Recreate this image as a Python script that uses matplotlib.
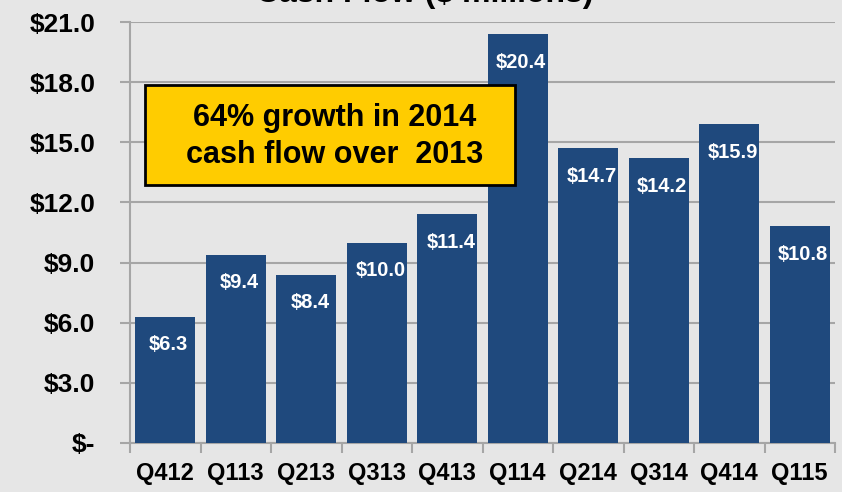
import matplotlib.pyplot as plt
from matplotlib.patches import Rectangle
import numpy as np

quarters = ['Q412', 'Q113', 'Q213', 'Q313', 'Q413', 'Q114', 'Q214', 'Q314', 'Q414', 'Q115']
cash_flow = [6.3, 9.4, 8.4, 10.0, 11.4, 20.4, 14.7, 14.2, 15.9, 10.8]
y_ticks = [0, 3, 6, 9, 12, 15, 18, 21]
y_labels = ['$-', '$3.0', '$6.0', '$9.0', '$12.0', '$15.0', '$18.0', '$21.0']

bg = '#E6E6E6'
bar_col = '#1F497D'
grid_col = '#A6A6A6'
font = 'Liberation Sans'

fig = plt.figure(figsize=(8.42, 4.92), dpi=100, facecolor=bg)
ax = fig.add_axes([130 / 842, 1 - 443 / 492, 705 / 842, 421 / 492], facecolor=bg)

x = np.arange(len(quarters))
ax.bar(x, cash_flow, width=0.85, color=bar_col, zorder=3)

# value labels inside the bars
for xi, v in zip(x, cash_flow):
    ax.text(xi + 0.05, v - 1.4, '$%.1f' % v, ha='center', va='center', color='white',
            fontsize=14.5, fontweight='bold', family=font, zorder=4)

ax.set_xlim(-0.5, len(quarters) - 0.5)
ax.set_ylim(0, 21)
ax.set_yticks(y_ticks)
ax.set_yticklabels(y_labels, fontsize=19, fontweight='bold', family=font)
ax.yaxis.grid(True, color=grid_col, lw=1.5, zorder=0)

ax.set_xticks(x)
ax.set_xticklabels(quarters, fontsize=17, fontweight='bold', family=font)
ax.set_xticks(np.arange(-0.5, len(quarters)), minor=True)
ax.tick_params(axis='x', which='major', length=0, pad=14)
ax.tick_params(axis='x', which='minor', length=7, color=grid_col, width=1.5)
ax.tick_params(axis='y', length=7, color=grid_col, width=1.5, pad=18)

for s in ['top', 'right']:
    ax.spines[s].set_visible(False)
for s in ['left', 'bottom']:
    ax.spines[s].set_color(grid_col)
    ax.spines[s].set_linewidth(1.5)

# callout box
ax.add_patch(Rectangle((0.021, 0.613), 0.525, 0.237, transform=ax.transAxes,
                       facecolor='#FFCC00', edgecolor='black', lw=2, zorder=5))
ax.text(0.29, 0.728, '64% growth in 2014\ncash flow over  2013', transform=ax.transAxes,
        ha='center', va='center', fontsize=22, fontweight='bold', family=font,
        linespacing=1.3, zorder=6)

fig.text(0.505, 1.012, 'Cash Flow ($ millions)', ha='center', va='center',
         fontsize=23, fontweight='bold', family=font)

fig.savefig('out.png', dpi=100, facecolor=bg)
